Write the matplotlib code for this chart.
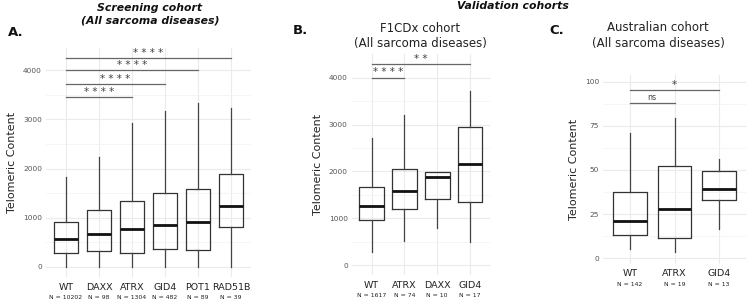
import matplotlib.pyplot as plt
from matplotlib.ticker import MultipleLocator

plt.rcParams['font.family'] = ['DejaVu Sans']

# A. screening cohort
a_genes = ['WT', 'DAXX', 'ATRX', 'GID4', 'POT1', 'RAD51B']
a_n = [10202, 98, 1304, 482, 89, 39]
a_low = [0, 0, 0, 0, 0, 0]
a_q1 = [285, 320, 290, 370, 350, 805]
a_med = [560, 680, 770, 850, 920, 1250]
a_q3 = [915, 1160, 1340, 1500, 1585, 1885]
a_high = [1835, 2230, 2930, 3170, 3330, 3230]
a_pairs = [('WT', 'ATRX'), ('WT', 'GID4'), ('WT', 'POT1'), ('WT', 'RAD51B')]
a_sig = ['****', '****', '****', '****']
a_sig_y = [3450, 3720, 4000, 4240]

# B. F1CDx cohort
b_genes = ['WT', 'ATRX', 'DAXX', 'GID4']
b_n = [1617, 74, 10, 17]
b_low = [290, 525, 800, 490]
b_q1 = [970, 1210, 1415, 1345]
b_med = [1260, 1585, 1890, 2160]
b_q3 = [1670, 2055, 1985, 2955]
b_high = [2720, 3205, 1985, 3720]
b_pairs = [('WT', 'ATRX'), ('WT', 'GID4')]
b_sig = ['****', '**']
b_sig_y = [4000, 4285]

# C. Australian cohort
c_genes = ['WT', 'ATRX', 'GID4']
c_n = [142, 19, 13]
c_low = [5.1, 3.8, 16.6]
c_q1 = [13.2, 11.3, 32.8]
c_med = [21.1, 27.9, 39.2]
c_q3 = [37.4, 52.4, 49.2]
c_high = [71.1, 79.4, 56.2]
c_pairs = [('WT', 'ATRX'), ('WT', 'GID4')]
c_sig = ['ns', '*']
c_sig_y = [87.8, 95.3]


def panel(ax, genes, n, low, q1, med, q3, high, pairs, sig, sig_y, ylim, step):
    stats = []
    for i in range(len(genes)):
        stats.append(dict(whislo=low[i], q1=q1[i], med=med[i], q3=q3[i],
                          whishi=high[i], fliers=[]))
    pos = list(range(1, len(genes) + 1))
    ax.bxp(stats, positions=pos, widths=0.75, showcaps=False,
           boxprops=dict(color='#333333', lw=0.9),
           whiskerprops=dict(color='#444444', lw=0.9),
           medianprops=dict(color='#111111', lw=2.0))
    ax.set_xlim(0.4, len(genes) + 0.6)
    ax.set_ylim(*ylim)
    ax.yaxis.set_major_locator(MultipleLocator(step))
    ax.yaxis.set_minor_locator(MultipleLocator(step / 2))
    ax.set_axisbelow(True)
    ax.grid(which='major', color='#ebebeb', lw=0.8)
    ax.grid(which='minor', axis='y', color='#f2f2f2', lw=0.5)
    for s in ax.spines.values():
        s.set_visible(False)
    ax.tick_params(which='both', length=0)
    ax.tick_params(axis='y', labelsize=5.3, labelcolor='#555555', pad=3)
    ax.set_xticks(pos)
    ax.set_xticklabels([])
    for p, g, k in zip(pos, genes, n):
        ax.annotate(g, (p, 0), xycoords=ax.get_xaxis_transform(),
                    xytext=(0, -7), textcoords='offset points',
                    ha='center', va='center', fontsize=6.8, color='#222222')
        ax.annotate('N = %d' % k, (p, 0), xycoords=ax.get_xaxis_transform(),
                    xytext=(0, -14.8), textcoords='offset points',
                    ha='center', va='center', fontsize=4.4, color='#222222')
    for (g1, g2), s, y in zip(pairs, sig, sig_y):
        x1 = genes.index(g1) + 1
        x2 = genes.index(g2) + 1
        ax.plot([x1, x2], [y, y], color='#666666', lw=0.9)
        if s == 'ns':
            ax.annotate(s, ((x1 + x2) / 2, y), xytext=(0, 1),
                        textcoords='offset points', ha='center', va='bottom',
                        fontsize=5.8, color='#444444')
        else:
            ax.annotate(' '.join(s), ((x1 + x2) / 2, y), xytext=(0, 0.3),
                        textcoords='offset points', ha='center', va='bottom',
                        fontsize=7.5, color='#444444')
    ax.set_ylabel('Telomeric Content', fontsize=8, color='#222222', labelpad=4)


fig = plt.figure(figsize=(7.5, 3.01), dpi=100)
ax1 = fig.add_axes([0.0616, 0.0784, 0.2728, 0.762])
ax2 = fig.add_axes([0.4693, 0.0854, 0.1836, 0.7342])
ax3 = fig.add_axes([0.8044, 0.1243, 0.1899, 0.6277])

panel(ax1, a_genes, a_n, a_low, a_q1, a_med, a_q3, a_high,
      a_pairs, a_sig, a_sig_y, (-212, 4452), 1000)
panel(ax2, b_genes, b_n, b_low, b_q1, b_med, b_q3, b_high,
      b_pairs, b_sig, b_sig_y, (-214, 4499), 1000)
panel(ax3, c_genes, c_n, c_low, c_q1, c_med, c_q3, c_high,
      c_pairs, c_sig, c_sig_y, (-3, 104), 25)

H = 301.0
fig.text(150 / 750, 1 - 14 / H, 'Screening cohort\n(All sarcoma diseases)',
         ha='center', va='center', fontsize=7.8, fontweight='bold',
         fontstyle='italic', color='#111111', linespacing=1.35)
fig.text(513 / 750, 1 - 6 / H, 'Validation cohorts', ha='center', va='center',
         fontsize=7.8, fontweight='bold', fontstyle='italic', color='#111111')
fig.text(8 / 750, 1 - 32 / H, 'A.', ha='left', va='center', fontsize=9.5,
         fontweight='bold', color='#111111')
fig.text(293 / 750, 1 - 31 / H, 'B.', ha='left', va='center', fontsize=9.5,
         fontweight='bold', color='#111111')
fig.text(549 / 750, 1 - 30 / H, 'C.', ha='left', va='center', fontsize=9.5,
         fontweight='bold', color='#111111')
fig.text(420 / 750, 1 - 36 / H, 'F1CDx cohort\n(All sarcoma diseases)',
         ha='center', va='center', fontsize=8.5, color='#222222',
         linespacing=1.25)
fig.text(658 / 750, 1 - 35.5 / H, 'Australian cohort\n(All sarcoma diseases)',
         ha='center', va='center', fontsize=8.5, color='#222222',
         linespacing=1.25)

fig.savefig('out.png', dpi=100)
